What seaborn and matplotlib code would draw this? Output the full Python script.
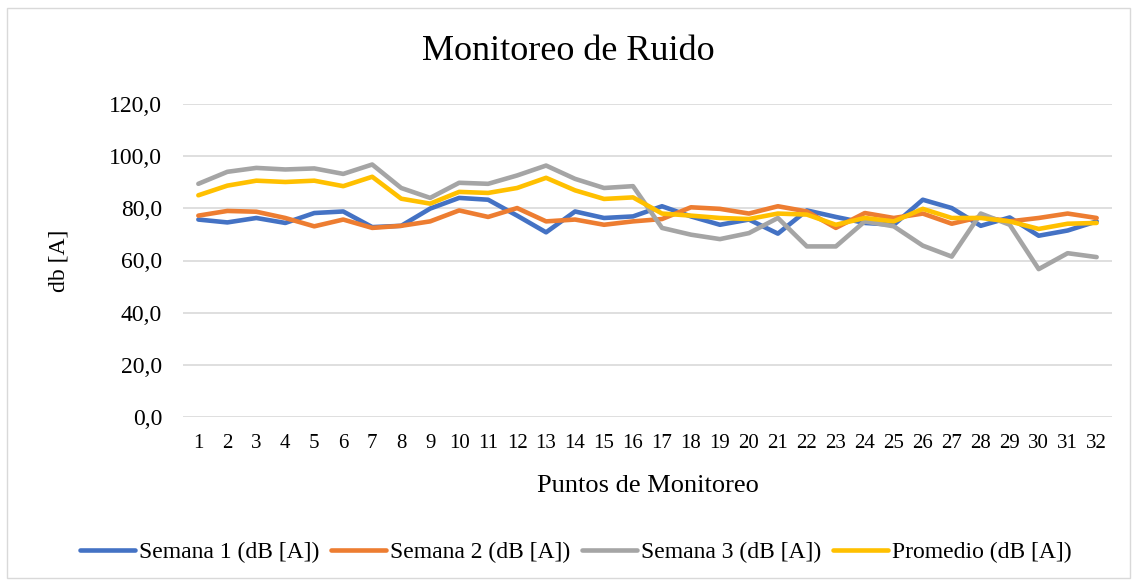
import matplotlib
matplotlib.use("Agg")
import matplotlib.pyplot as plt
import seaborn as sns
import pandas as pd
from matplotlib.ticker import FuncFormatter, MultipleLocator
from matplotlib.patches import Rectangle
from matplotlib.lines import Line2D

puntos = list(range(1, 33))
semana1 = [75.7, 74.6, 76.3, 74.4, 78.2, 78.8, 72.8, 73.3, 79.9, 84.0, 83.3,
           77.2, 70.8, 78.8, 76.3, 76.9, 80.8, 76.9, 73.7, 75.7, 70.3,
           79.2, 76.7, 74.4, 73.7, 83.3, 80.1, 73.3, 76.5, 69.5, 71.5, 75.0]
semana2 = [77.2, 79.0, 78.7, 76.3, 73.1, 75.7, 72.5, 73.3, 75.0, 79.2, 76.7,
           80.1, 75.0, 75.7, 73.7, 75.0, 75.9, 80.4, 79.8, 78.0, 80.8,
           78.8, 72.5, 78.2, 76.3, 78.0, 74.1, 76.7, 75.0, 76.3, 78.0, 76.3]
semana3 = [89.4, 94.0, 95.5, 94.9, 95.3, 93.2, 96.8, 87.8, 84.0, 89.8, 89.4,
           92.6, 96.4, 91.3, 87.8, 88.5, 72.5, 69.9, 68.2, 70.5, 76.3,
           65.4, 65.4, 75.0, 73.1, 65.7, 61.5, 78.0, 73.7, 56.7, 62.8, 61.3]
promedio = [85.0, 88.7, 90.6, 90.1, 90.6, 88.5, 92.1, 83.7, 81.8, 86.3, 85.9,
            87.8, 91.7, 86.9, 83.6, 84.2, 78.0, 77.2, 76.3, 75.9, 78.0,
            77.6, 73.7, 76.3, 75.0, 79.8, 76.3, 76.3, 75.0, 72.1, 74.1, 74.4]

series_names = ["Semana 1 (dB [A])", "Semana 2 (dB [A])", "Semana 3 (dB [A])", "Promedio (dB [A])"]
colors = ["#4472C4", "#ED7D31", "#A5A5A5", "#FFC000"]

df = pd.concat([
    pd.DataFrame({"Punto": puntos, "Valor": vals, "Serie": name})
    for name, vals in zip(series_names, [semana1, semana2, semana3, promedio])
])

sns.set_theme(style="white")
plt.rcParams["font.family"] = ["Liberation Serif", "DejaVu Serif"]
plt.rcParams["text.color"] = "black"
plt.rcParams["axes.labelcolor"] = "black"

W, H = 1137, 584
fig = plt.figure(figsize=(W / 100, H / 100), dpi=100)
ax = fig.add_axes([183 / W, 1 - 417 / H, (1112 - 183) / W, (417 - 104) / H])

sns.lineplot(data=df, x="Punto", y="Valor", hue="Serie", palette=colors,
             hue_order=series_names, linewidth=3.3, ax=ax, legend=False,
             solid_capstyle="round", solid_joinstyle="round")

ax.set_xlim(0.47, 32.53)
ax.set_ylim(0, 120)
ax.yaxis.set_major_locator(MultipleLocator(20))
ax.yaxis.set_major_formatter(FuncFormatter(lambda v, p: f"{v:.1f}".replace(".", ",")))
ax.set_xticks(puntos)
ax.set_xticklabels([str(p) for p in puntos])
ax.grid(axis="y", color="#d9d9d9", linewidth=1.2)
ax.set_axisbelow(True)
for s in ax.spines.values():
    s.set_visible(False)
ax.tick_params(axis="both", length=0, colors="black", labelcolor="black")
ax.tick_params(axis="x", pad=12.5, labelsize=15)
ax.tick_params(axis="y", pad=15, labelsize=17)

ax.set_xlabel("Puntos de Monitoreo", fontsize=19, labelpad=15.5, color="black")
ax.set_ylabel("db [A]", fontsize=17, color="black")
ax.yaxis.set_label_coords((69 - 183) / (1112 - 183), 0.5)
fig.suptitle("Monitoreo de Ruido", fontsize=26, y=1 - 52 / H, va="center", color="black")

handles = [Line2D([0], [0], color=c, linewidth=3.3, solid_capstyle="round") for c in colors]
fig.legend(handles, series_names, loc="center", bbox_to_anchor=(576 / W, 1 - 552 / H),
           ncol=4, frameon=False, fontsize=17, handlelength=2.33, handletextpad=0.17,
           columnspacing=0.5, labelcolor="black")

fig.patches.append(Rectangle((7 / W, 6 / H), 1 - 14 / W, 1 - 14 / H,
                             transform=fig.transFigure, fill=False,
                             edgecolor="#d9d9d9", linewidth=1))

fig.savefig("out.png", dpi=100)
